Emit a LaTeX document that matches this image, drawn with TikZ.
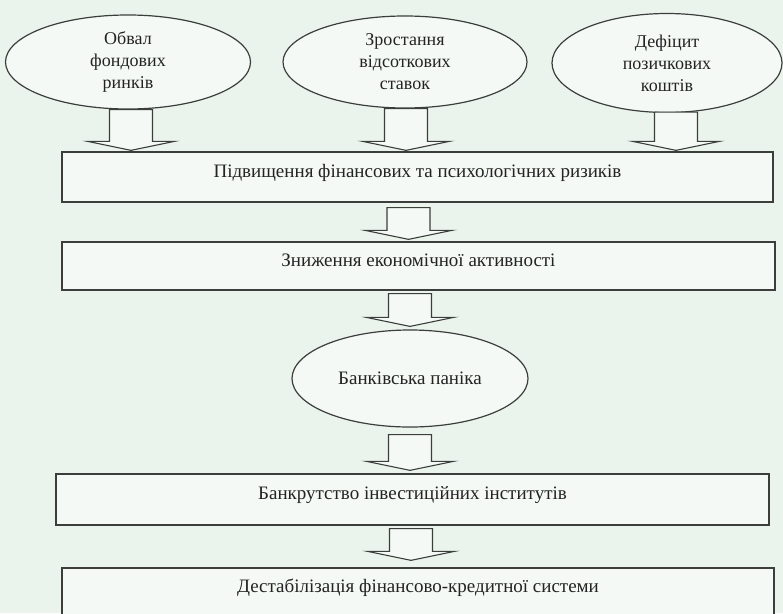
\documentclass[tikz,border=0pt]{standalone}
\usepackage{fontspec}
\setmainfont{Liberation Serif}
\usetikzlibrary{calc,shapes.geometric}
\definecolor{bgc}{RGB}{234,244,237}
\definecolor{fillc}{RGB}{244,249,245}
\definecolor{linec}{RGB}{60,62,60}
\definecolor{textc}{RGB}{35,35,35}
\tikzset{
  every node/.style={text=textc, font=\fontsize{18}{22}\selectfont},
  ell/.style={ellipse, draw=linec, fill=fillc, line width=1.2pt, inner sep=0pt, align=center},
  boxnode/.style={rectangle, draw=linec, fill=fillc, line width=1.3pt, inner sep=0pt, text height=10pt, text depth=10pt, font=\fontsize{19}{22}\selectfont},
  blk/.style={draw=linec, fill=fillc, line width=1.1pt, line join=miter}
}
\newcommand{\blockarr}[2]{%
  \draw[blk] let \p1=(#1), \p2=(#2) in
    (\x1-21.5pt,\y1) -- (\x1+21.5pt,\y1) -- (\x1+21.5pt,\y2+9pt) -- (\x1+43.5pt,\y2+9pt)
    -- (\x1,\y2) -- (\x1-43.5pt,\y2+9pt) -- (\x1-21.5pt,\y2+9pt) -- cycle;}
\begin{document}
\begin{tikzpicture}[x=1pt,y=-1pt]
\useasboundingbox (0,0) rectangle (783,613);
\clip (0,0) rectangle (783,613);
\fill[bgc] (0,0) rectangle (783,613);

% top ellipses
\node[ell, minimum width=245pt, minimum height=94pt] (e1) at (128,62) {Обвал\\фондових\\ринків};
\node[ell, minimum width=244pt, minimum height=92pt] (e2) at (405,62) {Зростання\\відсоткових\\ставок};
\node[ell, minimum width=230pt, minimum height=99pt] (e3) at (667,63) {Дефіцит\\позичкових\\коштів};

% boxes
\node[boxnode, minimum width=711pt, minimum height=50pt] (b1) at (417.5,177) {Підвищення фінансових та психологічних ризиків};
\node[boxnode, minimum width=713pt, minimum height=48pt] (b2) at (418.5,266) {Зниження економічної активності};
\node[ell, minimum width=236pt, minimum height=97pt, font=\fontsize{19}{22}\selectfont] (e4) at (410,378.5) {Банківська паніка};
\node[boxnode, minimum width=713pt, minimum height=51pt] (b3) at (412.5,499.5) {Банкрутство інвестиційних інститутів};
\node[boxnode, minimum width=712pt, minimum height=48pt] (b4) at (418,592) {Дестабілізація фінансово-кредитної системи};

% arrow anchor coordinates
\path ($(e1.south)+(3,0)$) coordinate (a1s);
\path (b1.north -| a1s) coordinate (a1t);
\path ($(e2.south)+(1,0)$) coordinate (a2s);
\path (b1.north -| a2s) coordinate (a2t);
\path ($(e3.south)+(9,-1)$) coordinate (a3s);
\path (b1.north -| a3s) coordinate (a3t);
\path (b1.south -| 408.5,0) ++(0,5) coordinate (a4s);
\path (b2.north -| a4s) coordinate (a4t);
\path (b2.south -| 410,0) ++(0,3) coordinate (a5s);
\path (e4.north -| a5s) coordinate (a5t);
\path (e4.south -| 410,0) ++(0,7) coordinate (a6s);
\path (b3.north -| a6s) coordinate (a6t);
\path (b3.south -| 411,0) ++(0,3) coordinate (a7s);
\path (b4.north -| a7s) coordinate (a7t);

\blockarr{a1s}{$(a1t)+(0,-1)$}
\blockarr{a2s}{$(a2t)+(0,-1)$}
\blockarr{a3s}{$(a3t)+(0,-1)$}
\blockarr{a4s}{$(a4t)+(0,-2)$}
\blockarr{a5s}{$(a5t)+(0,-3)$}
\blockarr{a6s}{$(a6t)+(0,-3)$}
\blockarr{a7s}{$(a7t)+(0,-7)$}
\end{tikzpicture}
\end{document}
